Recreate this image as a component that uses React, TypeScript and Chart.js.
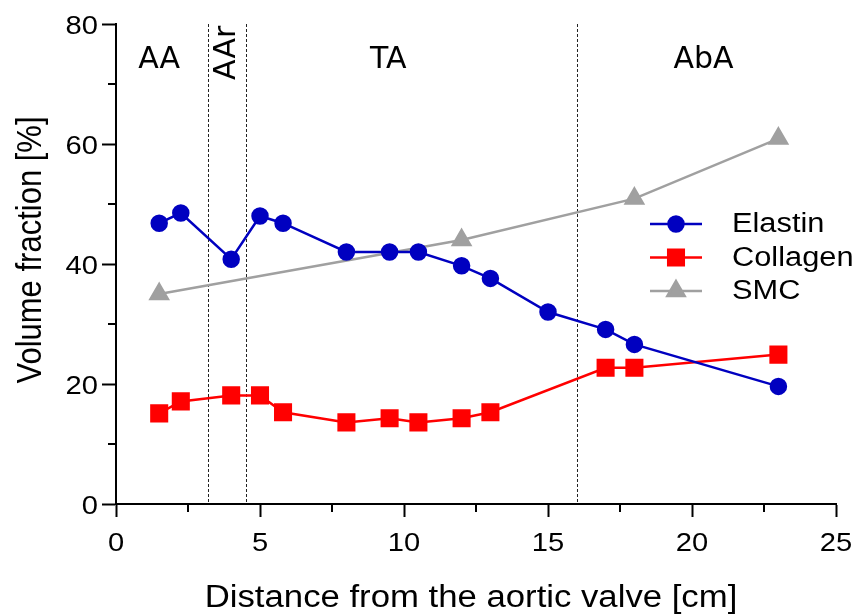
import { useEffect, useRef } from 'react';
import { Chart, registerables } from 'chart.js';
import { drawPoint } from 'chart.js/helpers';

Chart.register(...registerables);

// Distance from the aortic valve [cm] and volume fractions [%]
const elastinX = [1.5, 2.25, 4, 5, 5.8, 8, 9.5, 10.5, 12, 13, 15, 17, 18, 23];
const elastinY = [46.8, 48.5, 40.8, 48, 46.8, 42, 42, 42, 39.7, 37.6, 32, 29.1, 26.6, 19.6];
const collagenX = [1.5, 2.25, 4, 5, 5.8, 8, 9.5, 10.5, 12, 13, 17, 18, 23];
const collagenY = [15.1, 17.1, 18.1, 18.1, 15.3, 13.6, 14.3, 13.6, 14.3, 15.3, 22.7, 22.7, 24.9];
const smcX = [1.5, 12, 18, 23];
const smcY = [35, 44, 50.9, 60.9];

// Aortic segment boundaries [cm] and segment names
const segmentBounds = [3.2, 4.5, 16];
const segmentNames = ['AA', 'AAr', 'TA', 'AbA'];
const segmentLabelX = [1.5, 3.85, 9.45, 20.4];
const segmentLabelY = [74, 75.2, 74, 74];
const segmentLabelRotated = [false, true, false, false];

const xTitle = 'Distance from the aortic valve [cm]';
const yTitle = 'Volume fraction [%]';

const SANS = "'Liberation Sans', Arial, sans-serif";
const TEXT_STRETCH = 1.12;

const toXY = (xs: number[], ys: number[]) => xs.map((x, i) => ({ x, y: ys[i] }));

// Text drawn slightly widened, as in the original figure's typeface
const stretchText = (
  ctx: CanvasRenderingContext2D,
  text: string,
  x: number,
  y: number,
  sx: number,
  rot = 0,
) => {
  ctx.save();
  ctx.translate(x, y);
  ctx.scale(sx, 1);
  if (rot) ctx.rotate(rot);
  ctx.fillText(text, 0, 0);
  ctx.restore();
};

const decorations = {
  id: 'aortaDecorations',
  beforeDatasetsDraw(chart: any) {
    const { ctx, chartArea, scales } = chart;
    ctx.save();
    ctx.strokeStyle = '#222';
    ctx.lineWidth = 1;
    ctx.setLineDash([3, 2]);
    segmentBounds.forEach((b) => {
      const px = Math.round(scales.x.getPixelForValue(b)) + 0.5;
      ctx.beginPath();
      ctx.moveTo(px, chartArea.top);
      ctx.lineTo(px, chartArea.bottom);
      ctx.stroke();
    });
    ctx.restore();
  },
  afterDraw(chart: any) {
    const { ctx, chartArea, scales } = chart;
    const xs = scales.x;
    const ys = scales.y;
    ctx.save();

    // minor tick marks
    ctx.strokeStyle = '#000';
    ctx.lineWidth = 2;
    for (let v = 2.5; v < 25; v += 5) {
      const px = Math.round(xs.getPixelForValue(v));
      ctx.beginPath();
      ctx.moveTo(px, chartArea.bottom);
      ctx.lineTo(px, chartArea.bottom + 8);
      ctx.stroke();
    }
    for (let v = 10; v < 80; v += 20) {
      const py = Math.round(ys.getPixelForValue(v));
      ctx.beginPath();
      ctx.moveTo(chartArea.left, py);
      ctx.lineTo(chartArea.left - 8, py);
      ctx.stroke();
    }

    // tick labels
    ctx.fillStyle = '#000';
    ctx.font = `26px ${SANS}`;
    ctx.textBaseline = 'alphabetic';
    ctx.textAlign = 'center';
    xs.ticks.forEach((t: any) => {
      stretchText(ctx, String(t.value), xs.getPixelForValue(t.value), 551, TEXT_STRETCH);
    });
    ctx.textAlign = 'right';
    ys.ticks.forEach((t: any) => {
      stretchText(ctx, String(t.value), 98, ys.getPixelForValue(t.value) + 9.5, TEXT_STRETCH);
    });

    // segment names
    ctx.font = "30px 'DejaVu Sans', sans-serif";
    ctx.textAlign = 'center';
    ctx.textBaseline = 'middle';
    segmentNames.forEach((name, i) => {
      const px = xs.getPixelForValue(segmentLabelX[i]);
      const py = ys.getPixelForValue(segmentLabelY[i]);
      ctx.save();
      ctx.translate(px, py);
      if (segmentLabelRotated[i]) ctx.rotate(-Math.PI / 2);
      ctx.fillText(name, 0, 0);
      ctx.restore();
    });

    // legend
    const rowTop = 224;
    const rowGap = 33.5;
    chart.data.datasets.forEach((ds: any, i: number) => {
      const y = rowTop + i * rowGap;
      ctx.strokeStyle = ds.borderColor;
      ctx.lineWidth = ds.borderWidth;
      ctx.setLineDash([]);
      ctx.beginPath();
      ctx.moveTo(650, y);
      ctx.lineTo(702, y);
      ctx.stroke();
      ctx.fillStyle = ds.pointBackgroundColor;
      ctx.strokeStyle = ds.pointBackgroundColor;
      drawPoint(ctx, { pointStyle: ds.pointStyle, radius: ds.pointRadius, rotation: 0, borderWidth: 1 }, 676, y);
      ctx.fillStyle = '#000';
      ctx.font = `27px ${SANS}`;
      ctx.textAlign = 'left';
      ctx.textBaseline = 'middle';
      stretchText(ctx, ds.label, 732, y + 1, 1.14);
    });

    // axis titles
    ctx.fillStyle = '#000';
    ctx.font = `31px ${SANS}`;
    ctx.textAlign = 'center';
    ctx.textBaseline = 'alphabetic';
    stretchText(ctx, xTitle, (chartArea.left + chartArea.right) / 2 - 5, 607, TEXT_STRETCH);
    stretchText(ctx, yTitle, 41, (chartArea.top + chartArea.bottom) / 2 - 14, TEXT_STRETCH, -Math.PI / 2);

    ctx.restore();
  },
};

export default function App() {
  const canvasRef = useRef<HTMLCanvasElement | null>(null);

  useEffect(() => {
    document.body.style.margin = '0';
    const canvas = canvasRef.current;
    if (!canvas) return;

    const chart = new Chart(canvas, {
      type: 'line',
      data: {
        datasets: [
          {
            label: 'Elastin',
            data: toXY(elastinX, elastinY),
            borderColor: '#0000C0',
            backgroundColor: '#0000C0',
            pointBackgroundColor: '#0000C0',
            pointBorderColor: '#0000C0',
            borderWidth: 2.5,
            pointStyle: 'circle',
            pointRadius: 7.5,
            order: 1,
          },
          {
            label: 'Collagen',
            data: toXY(collagenX, collagenY),
            borderColor: '#FF0000',
            backgroundColor: '#FF0000',
            pointBackgroundColor: '#FF0000',
            pointBorderColor: '#FF0000',
            borderWidth: 2.5,
            pointStyle: 'rect',
            pointRadius: 11,
            order: 2,
          },
          {
            label: 'SMC',
            data: toXY(smcX, smcY),
            borderColor: '#A0A0A0',
            backgroundColor: '#A0A0A0',
            pointBackgroundColor: '#A0A0A0',
            pointBorderColor: '#A0A0A0',
            borderWidth: 2.5,
            pointStyle: 'triangle',
            pointRadius: 10,
            order: 3,
          },
        ],
      },
      options: {
        responsive: false,
        animation: false,
        layout: { padding: { left: 0, right: 19, top: 24, bottom: 0 } },
        plugins: {
          legend: { display: false },
          tooltip: { enabled: false },
        },
        scales: {
          x: {
            type: 'linear',
            min: 0,
            max: 25,
            afterFit: (s: any) => {
              s.height = 111;
            },
            ticks: { stepSize: 5, display: false },
            grid: {
              drawOnChartArea: false,
              drawTicks: true,
              tickLength: 13,
              tickWidth: 2,
              tickColor: '#000',
            },
            border: { display: true, color: '#000', width: 2 },
          },
          y: {
            type: 'linear',
            min: 0,
            max: 80,
            afterFit: (s: any) => {
              s.width = 116;
            },
            ticks: { stepSize: 20, display: false },
            grid: {
              drawOnChartArea: false,
              drawTicks: true,
              tickLength: 14,
              tickWidth: 2,
              tickColor: '#000',
            },
            border: { display: true, color: '#000', width: 2 },
          },
        },
      },
      plugins: [decorations],
    });

    return () => chart.destroy();
  }, []);

  return (
    <div style={{ width: 855, height: 615 }}>
      <canvas ref={canvasRef} width={855} height={615} style={{ display: 'block' }} />
    </div>
  );
}
